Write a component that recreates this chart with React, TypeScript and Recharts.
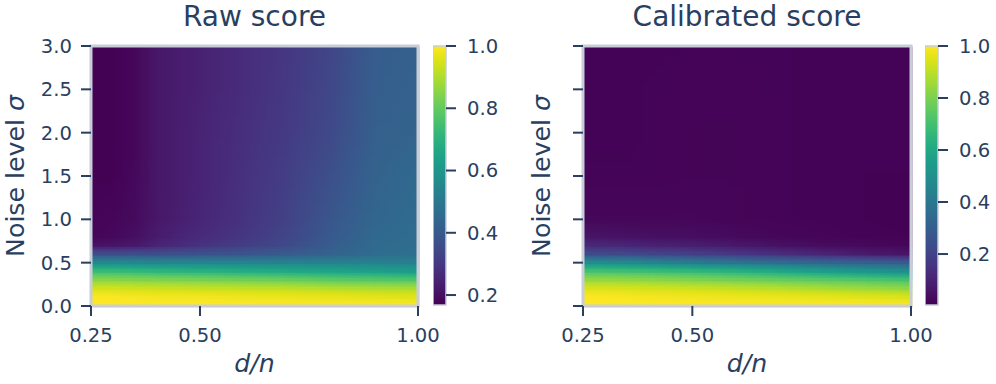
import React from 'react'
import { ScatterChart, Scatter, ComposedChart, XAxis, YAxis, ReferenceArea } from 'recharts'

const INK = '#2a3f5f'
const FRAME = '#c8cdd7'
const FONT = '"DejaVu Sans", sans-serif'
const TICK_FONT = 19.6
const AXIS_FONT = 25.2

// grid the scores were computed on
const dOverN = [0.25, 0.3, 0.35, 0.4, 0.5, 0.6, 0.7, 0.8, 0.9, 1.0]
const sigmas = [0, 0.1, 0.2, 0.3, 0.4, 0.5, 0.6, 0.7, 0.8, 1.0, 1.5, 2.0, 2.5, 3.0]

// one row per sigma (ascending), one value per d/n
const rawScore = [
  [1, 1, 1, 1, 1, 1, 1, 1, 1, 1],
  [1, 1, 0.995, 0.99, 0.99, 0.985, 0.98, 0.975, 0.97, 0.965],
  [0.95, 0.95, 0.945, 0.94, 0.935, 0.93, 0.925, 0.915, 0.905, 0.9],
  [0.86, 0.86, 0.855, 0.85, 0.84, 0.83, 0.82, 0.8, 0.79, 0.78],
  [0.74, 0.74, 0.73, 0.72, 0.705, 0.69, 0.675, 0.66, 0.645, 0.63],
  [0.57, 0.57, 0.565, 0.56, 0.555, 0.55, 0.545, 0.54, 0.535, 0.53],
  [0.375, 0.375, 0.375, 0.375, 0.38, 0.39, 0.41, 0.43, 0.46, 0.47],
  [0.21, 0.215, 0.225, 0.25, 0.29, 0.32, 0.355, 0.41, 0.455, 0.465],
  [0.18, 0.185, 0.2, 0.23, 0.27, 0.3, 0.34, 0.4, 0.45, 0.46],
  [0.175, 0.18, 0.19, 0.22, 0.255, 0.29, 0.33, 0.39, 0.44, 0.46],
  [0.17, 0.17, 0.185, 0.22, 0.25, 0.285, 0.32, 0.37, 0.43, 0.45],
  [0.17, 0.17, 0.18, 0.22, 0.25, 0.28, 0.31, 0.35, 0.42, 0.435],
  [0.17, 0.17, 0.18, 0.22, 0.245, 0.275, 0.305, 0.345, 0.415, 0.425],
  [0.17, 0.17, 0.18, 0.22, 0.245, 0.275, 0.3, 0.34, 0.41, 0.42],
]

const calibratedScore = [
  [1, 1, 1, 1, 1, 1, 1, 1, 1, 1],
  [1, 1, 0.995, 0.99, 0.985, 0.98, 0.975, 0.97, 0.96, 0.95],
  [0.95, 0.95, 0.945, 0.94, 0.93, 0.915, 0.9, 0.88, 0.86, 0.84],
  [0.85, 0.85, 0.845, 0.84, 0.82, 0.8, 0.78, 0.76, 0.74, 0.72],
  [0.72, 0.715, 0.71, 0.7, 0.68, 0.65, 0.61, 0.57, 0.53, 0.5],
  [0.51, 0.5, 0.49, 0.47, 0.43, 0.4, 0.37, 0.34, 0.32, 0.3],
  [0.24, 0.235, 0.23, 0.22, 0.2, 0.17, 0.14, 0.11, 0.08, 0.06],
  [0.12, 0.115, 0.11, 0.1, 0.09, 0.07, 0.05, 0.035, 0.025, 0.02],
  [0.06, 0.055, 0.05, 0.045, 0.04, 0.03, 0.02, 0.015, 0.01, 0.008],
  [0.02, 0.02, 0.02, 0.02, 0.02, 0.015, 0.012, 0.01, 0.008, 0.006],
  [0.012, 0.012, 0.012, 0.012, 0.014, 0.014, 0.012, 0.01, 0.008, 0.008],
  [0.01, 0.01, 0.01, 0.012, 0.014, 0.014, 0.012, 0.01, 0.01, 0.01],
  [0.01, 0.01, 0.01, 0.012, 0.013, 0.013, 0.012, 0.01, 0.01, 0.01],
  [0.01, 0.01, 0.01, 0.01, 0.012, 0.012, 0.012, 0.01, 0.01, 0.01],
]

const xTicks = [0.25, 0.5, 1.0]
const yTicks = [0, 0.5, 1, 1.5, 2, 2.5, 3]
const colorTicks = [0.2, 0.4, 0.6, 0.8, 1.0]
const rawRange: [number, number] = [0.168, 1]
const calibratedRange: [number, number] = [0.004, 1]

// viridis, sampled every 0.05
const viridis = [
  '#440154', '#471365', '#482475', '#463480', '#414487', '#3b528b', '#355f8d',
  '#2f6c8e', '#2a788e', '#25848e', '#21918c', '#1e9c89', '#22a884', '#2fb47c',
  '#44bf70', '#5ec962', '#7ad151', '#9bd93c', '#bddf26', '#dfe318', '#fde725',
]

const hexToRgb = (h: string) => [1, 3, 5].map(i => parseInt(h.slice(i, i + 2), 16))
const viridisRgb = viridis.map(hexToRgb)

function colorAt(t: number) {
  const c = Math.max(0, Math.min(1, t)) * (viridis.length - 1)
  const i = Math.min(Math.floor(c), viridis.length - 2)
  const f = c - i
  const a = viridisRgb[i]
  const b = viridisRgb[i + 1]
  const rgb = a.map((v, k) => Math.round(v + (b[k] - v) * f))
  return `rgb(${rgb.join(',')})`
}

const stripStops = [0, 0.25, 0.5, 0.75, 1]

// one grid cell, smoothed between its four corner values (like a smoothed heatmap)
function cellShape(id: string, tl: number, tr: number, bl: number, br: number, col: (v: number) => string) {
  return (p: any) => {
    const { x, y, width, height } = p
    const n = Math.max(2, Math.ceil(height / 2))
    const strips = []
    for (let k = 0; k < n; k++) {
      const t = (k + 0.5) / n
      const left = tl + (bl - tl) * t
      const right = tr + (br - tr) * t
      const gid = `${id}-${k}`
      strips.push(
        <g key={k}>
          <defs>
            <linearGradient id={gid} x1="0" y1="0" x2="1" y2="0">
              {stripStops.map(s => (
                <stop key={s} offset={s} stopColor={col(left + (right - left) * s)} />
              ))}
            </linearGradient>
          </defs>
          <rect x={x} y={y + (k * height) / n} width={width + 1.2} height={height / n + 1.2} fill={`url(#${gid})`} />
        </g>
      )
    }
    return <g>{strips}</g>
  }
}

const sigmaLabel = (offset: number) => (props: any) => {
  const vb = props.viewBox ?? { x: 0, y: 46, width: 0, height: 260 }
  const x = vb.x + offset
  const y = vb.y + vb.height / 2
  return (
    <text x={x} y={y} transform={`rotate(-90, ${x}, ${y})`} textAnchor="middle" fill={INK} fontSize={AXIS_FONT}>
      {'Noise level '}
      <tspan fontStyle="italic">σ</tspan>
    </text>
  )
}

const dnLabel = (props: any) => {
  const vb = props.viewBox ?? { x: 91, y: 306, width: 327, height: 78 }
  return (
    <text x={vb.x + vb.width / 2} y={vb.y + vb.height - 12} textAnchor="middle" fill={INK} fontSize={AXIS_FONT} fontStyle="italic">
      d/n
    </text>
  )
}

interface HeatmapProps {
  id: string
  values: number[][]
  range: [number, number]
  yAxisWidth: number
  plotWidth: number
  labelOffset: number
  showYTickLabels: boolean
}

function Heatmap({ id, values, range, yAxisWidth, plotWidth, labelOffset, showYTickLabels }: HeatmapProps) {
  const points = sigmas.flatMap((s, i) => dOverN.map((d, j) => ({ x: d, y: s, v: values[i][j] })))
  const col = (v: number) => colorAt((v - range[0]) / (range[1] - range[0]))

  const cells: React.ReactElement[] = []
  for (let i = 0; i < sigmas.length - 1; i++) {
    for (let j = 0; j < dOverN.length - 1; j++) {
      const key = `${id}-${i}-${j}`
      cells.push(
        <ReferenceArea
          key={key}
          x1={dOverN[j]}
          x2={dOverN[j + 1]}
          y1={sigmas[i]}
          y2={sigmas[i + 1]}
          shape={cellShape(key, values[i + 1][j], values[i + 1][j + 1], values[i][j], values[i][j + 1], col)}
        />
      )
    }
  }

  return (
    <ScatterChart width={yAxisWidth + plotWidth + 30} height={384} margin={{ top: 46, right: 30, bottom: 0, left: 0 }}>
      <XAxis
        type="number"
        dataKey="x"
        domain={[0.25, 1]}
        ticks={xTicks}
        tickFormatter={v => v.toFixed(2)}
        height={78}
        axisLine={false}
        tickSize={10}
        tickMargin={12}
        tickLine={{ stroke: INK, strokeWidth: 2 }}
        tick={{ fill: INK, fontSize: TICK_FONT }}
        label={dnLabel}
      />
      <YAxis
        type="number"
        dataKey="y"
        domain={[0, 3]}
        ticks={yTicks}
        tickFormatter={v => (showYTickLabels ? v.toFixed(1) : '')}
        width={yAxisWidth}
        axisLine={false}
        tickSize={10}
        tickMargin={9}
        tickLine={{ stroke: INK, strokeWidth: 2 }}
        tick={{ fill: INK, fontSize: TICK_FONT }}
        label={sigmaLabel(labelOffset)}
      />
      {cells}
      <ReferenceArea x1={0.25} x2={1} y1={0} y2={3} fill="none" fillOpacity={0} stroke={FRAME} strokeWidth={3} strokeOpacity={1} />
      <Scatter data={points} isAnimationActive={false} shape={() => <g />} />
    </ScatterChart>
  )
}

function ColorBar({ id, range }: { id: string; range: [number, number] }) {
  return (
    <ComposedChart width={70} height={384} data={[{ x: 0 }]} margin={{ top: 46, right: 0, bottom: 79, left: 0 }}>
      <XAxis type="number" dataKey="x" domain={[0, 1]} hide />
      <YAxis
        orientation="right"
        type="number"
        domain={range}
        ticks={colorTicks}
        width={57}
        allowDataOverflow
        axisLine={false}
        tickSize={10}
        tickMargin={11}
        tickLine={{ stroke: INK, strokeWidth: 2 }}
        tick={{ fill: INK, fontSize: TICK_FONT }}
        tickFormatter={v => v.toFixed(1)}
      />
      <ReferenceArea
        x1={0}
        x2={1}
        y1={range[0]}
        y2={range[1]}
        shape={(p: any) => (
          <g>
            <defs>
              <linearGradient id={id} x1="0" y1="1" x2="0" y2="0">
                {viridis.map((c, k) => (
                  <stop key={k} offset={k / (viridis.length - 1)} stopColor={c} />
                ))}
              </linearGradient>
            </defs>
            <rect x={p.x} y={p.y} width={p.width} height={p.height} fill={`url(#${id})`} stroke={FRAME} strokeWidth={1.5} />
          </g>
        )}
      />
    </ComposedChart>
  )
}

const titleStyle: React.CSSProperties = {
  position: 'absolute',
  top: 3,
  fontSize: 28,
  lineHeight: '28px',
  color: INK,
  textAlign: 'center',
}

export default function App() {
  return (
    <div style={{ position: 'absolute', left: 0, top: 0, width: 996, height: 384, background: '#fff', fontFamily: FONT }}>
      <div style={{ ...titleStyle, left: 91, width: 327 }}>Raw score</div>
      <div style={{ ...titleStyle, left: 583, width: 328 }}>Calibrated score</div>

      <div style={{ position: 'absolute', left: 0, top: 0 }}>
        <Heatmap id="raw" values={rawScore} range={rawRange} yAxisWidth={91} plotWidth={327} labelOffset={24} showYTickLabels />
      </div>
      <div style={{ position: 'absolute', left: 433, top: 0 }}>
        <ColorBar id="rawbar" range={rawRange} />
      </div>
      <div style={{ position: 'absolute', left: 500, top: 0 }}>
        <Heatmap id="cal" values={calibratedScore} range={calibratedRange} yAxisWidth={83} plotWidth={328} labelOffset={50} showYTickLabels={false} />
      </div>
      <div style={{ position: 'absolute', left: 925, top: 0 }}>
        <ColorBar id="calbar" range={calibratedRange} />
      </div>
    </div>
  )
}
